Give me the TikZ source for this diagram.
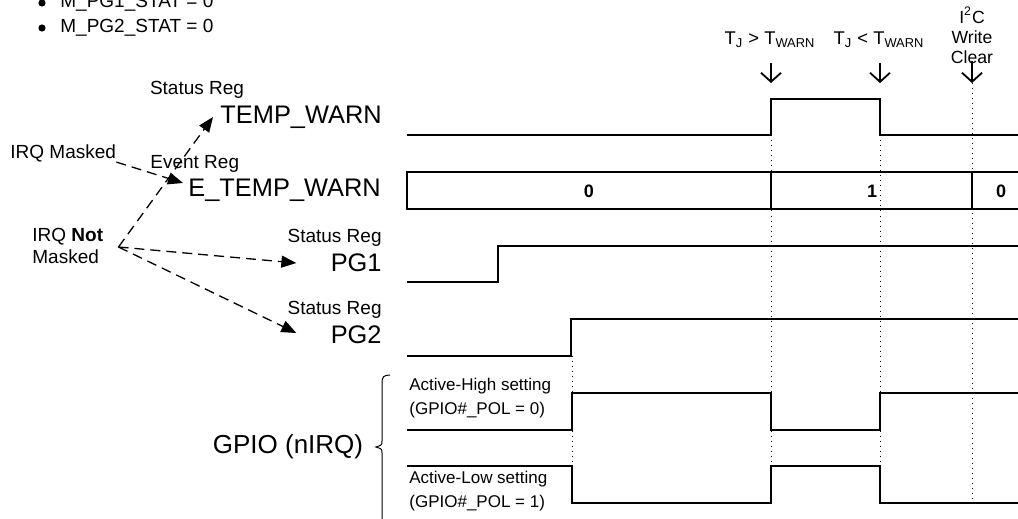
\documentclass[tikz,border=0pt]{standalone}
\usepackage{fontspec}
\setmainfont{Liberation Sans}
\usetikzlibrary{arrows.meta}

\tikzset{
  sig/.style={line width=1pt, line join=miter},
  guide/.style={dotted, line width=0.5pt},
  irq/.style={dash pattern=on 5pt off 3pt, line width=0.65pt, -{Triangle[length=7.5pt, width=6pt]}},
  evt/.style={line width=0.9pt, -{Straight Barb[length=4.5pt, width=10pt]}},
  small/.style={font=\fontsize{9.5}{11}\selectfont, inner sep=0pt},
  big/.style={font=\fontsize{12.7}{15}\selectfont, inner sep=0pt},
  note/.style={font=\fontsize{9.2}{10}\selectfont, inner sep=0pt, align=center},
  bullet/.style={circle, fill, inner sep=0pt, minimum size=3.6pt}
}

\begin{document}
\begin{tikzpicture}[x=0.5pt, y=-0.5pt]
    \useasboundingbox (0,0) rectangle (1018,519);

    % Mask settings
    \node[bullet] (dot1) at (42,3) {};
    \node[small, anchor=west] (mpg1) at (60,3) {M\_PG1\_STAT = 0};
    \node[bullet] (dot2) at (42,28) {};
    \node[small, anchor=west] (mpg2) at (60,28) {M\_PG2\_STAT = 0};

    % Register names
    \node[small] (twreg) at (197,90) {Status Reg};
    \node[big, anchor=west] (tw) at (220,117) {TEMP\_WARN};
    \node[small, anchor=west] (masked) at (10,153) {IRQ Masked};
    \node[small, anchor=west] (evreg) at (150,164) {Event Reg};
    \node[big, anchor=west] (etw) at (188,190) {E\_TEMP\_WARN};
    \node[small, anchor=west, align=left] (notmasked) at (32,246) {IRQ \textbf{Not}\\Masked};
    \node[small, anchor=east] (pg1reg) at (382,238) {Status Reg};
    \node[big, anchor=east] (pg1) at (382,263) {PG1};
    \node[small, anchor=east] (pg2reg) at (382,310) {Status Reg};
    \node[big, anchor=east] (pg2) at (382,335) {PG2};
    \node[font=\fontsize{13}{15}\selectfont, inner sep=0pt] (gpio) at (288,447) {GPIO (nIRQ)};
    \node[note, anchor=west, align=left, font=\fontsize{8.5}{12}\selectfont] (ahigh) at (409,398) {Active-High setting\\(GPIO\#\_POL = 0)};
    \node[note, anchor=west, align=left, font=\fontsize{8.5}{12}\selectfont] (alow) at (409,491) {Active-Low setting\\(GPIO\#\_POL = 1)};

    % Events
    \node[note] (hot) at (770,40) {T\textsubscript{J} > T\textsubscript{WARN}};
    \node[note] (cool) at (879,40) {T\textsubscript{J} < T\textsubscript{WARN}};
    \node[note, font=\fontsize{8.8}{10}\selectfont] (clear) at (972,35) {I\textsuperscript{2}C\\Write\\Clear};
    \coordinate (t1) at (771,83);
    \coordinate (t2) at (880,83);
    \coordinate (t3) at (972,83);
    \draw[evt] (t1) ++(0,-20) -- (t1);
    \draw[evt] (t2) ++(0,-20) -- (t2);
    \draw[evt] (t3) ++(0,-22) -- (t3);

    % IRQ mask arrows
    \coordinate (src) at ([xshift=7.5pt, yshift=-0.5pt]notmasked.east);
    \draw[irq] (masked.south east) -- ([xshift=-2.5pt, yshift=3.5pt]etw.west);
    \draw[irq] (src) -- ([xshift=-3.5pt]tw.west);
    \draw[irq] (src) -- ([xshift=-17pt]pg1.west);
    \draw[irq] (src) -- ([xshift=-17pt, yshift=1pt]pg2.west);

    % Dotted guides
    \draw[guide] (572,355.5) -- (572,502.5);
    \draw[guide] (771,135.5) -- (771,502.5);
    \draw[guide] (880,135.5) -- (880,502.5);
    \draw[guide] (t3) -- (972,502.5);

    % Waveforms
    \draw[sig] (407,135.5) -- (771,135.5) -- (771,99) -- (880,99) -- (880,135.5) -- (1018,135.5);
    \draw[sig] (1018,172.5) -- (407,172.5) -- (407,209) -- (1018,209);
    \draw[sig] (771,172.5) -- (771,209);
    \draw[sig] (972,172.5) -- (972,209);
    \node[note, font=\fontsize{9}{10}\selectfont\bfseries] (v0) at (589,191) {0};
    \node[note, font=\fontsize{9}{10}\selectfont\bfseries] (v1) at (872,191) {1};
    \node[note, font=\fontsize{9}{10}\selectfont\bfseries] (v2) at (1001,191) {0};
    \draw[sig] (407,282) -- (498,282) -- (498,245.5) -- (1018,245.5);
    \draw[sig] (407,355.5) -- (571,355.5) -- (571,319) -- (1018,319);
    \draw[sig] (407,429.5) -- (572,429.5) -- (572,393) -- (771,393) -- (771,429.5) -- (880,429.5) -- (880,393) -- (1018,393);
    \draw[sig] (407,466) -- (572,466) -- (572,502.5) -- (771,502.5) -- (771,466) -- (880,466) -- (880,502.5) -- (1018,502.5);

    % Brace
    \draw[line width=0.5pt] (390,375) .. controls (384,375) and (382,377) .. (382,382) -- (382,441) .. controls (382,445) .. (376,447) .. controls (382,449) .. (382,453) -- (382,519);
\end{tikzpicture}
\end{document}
